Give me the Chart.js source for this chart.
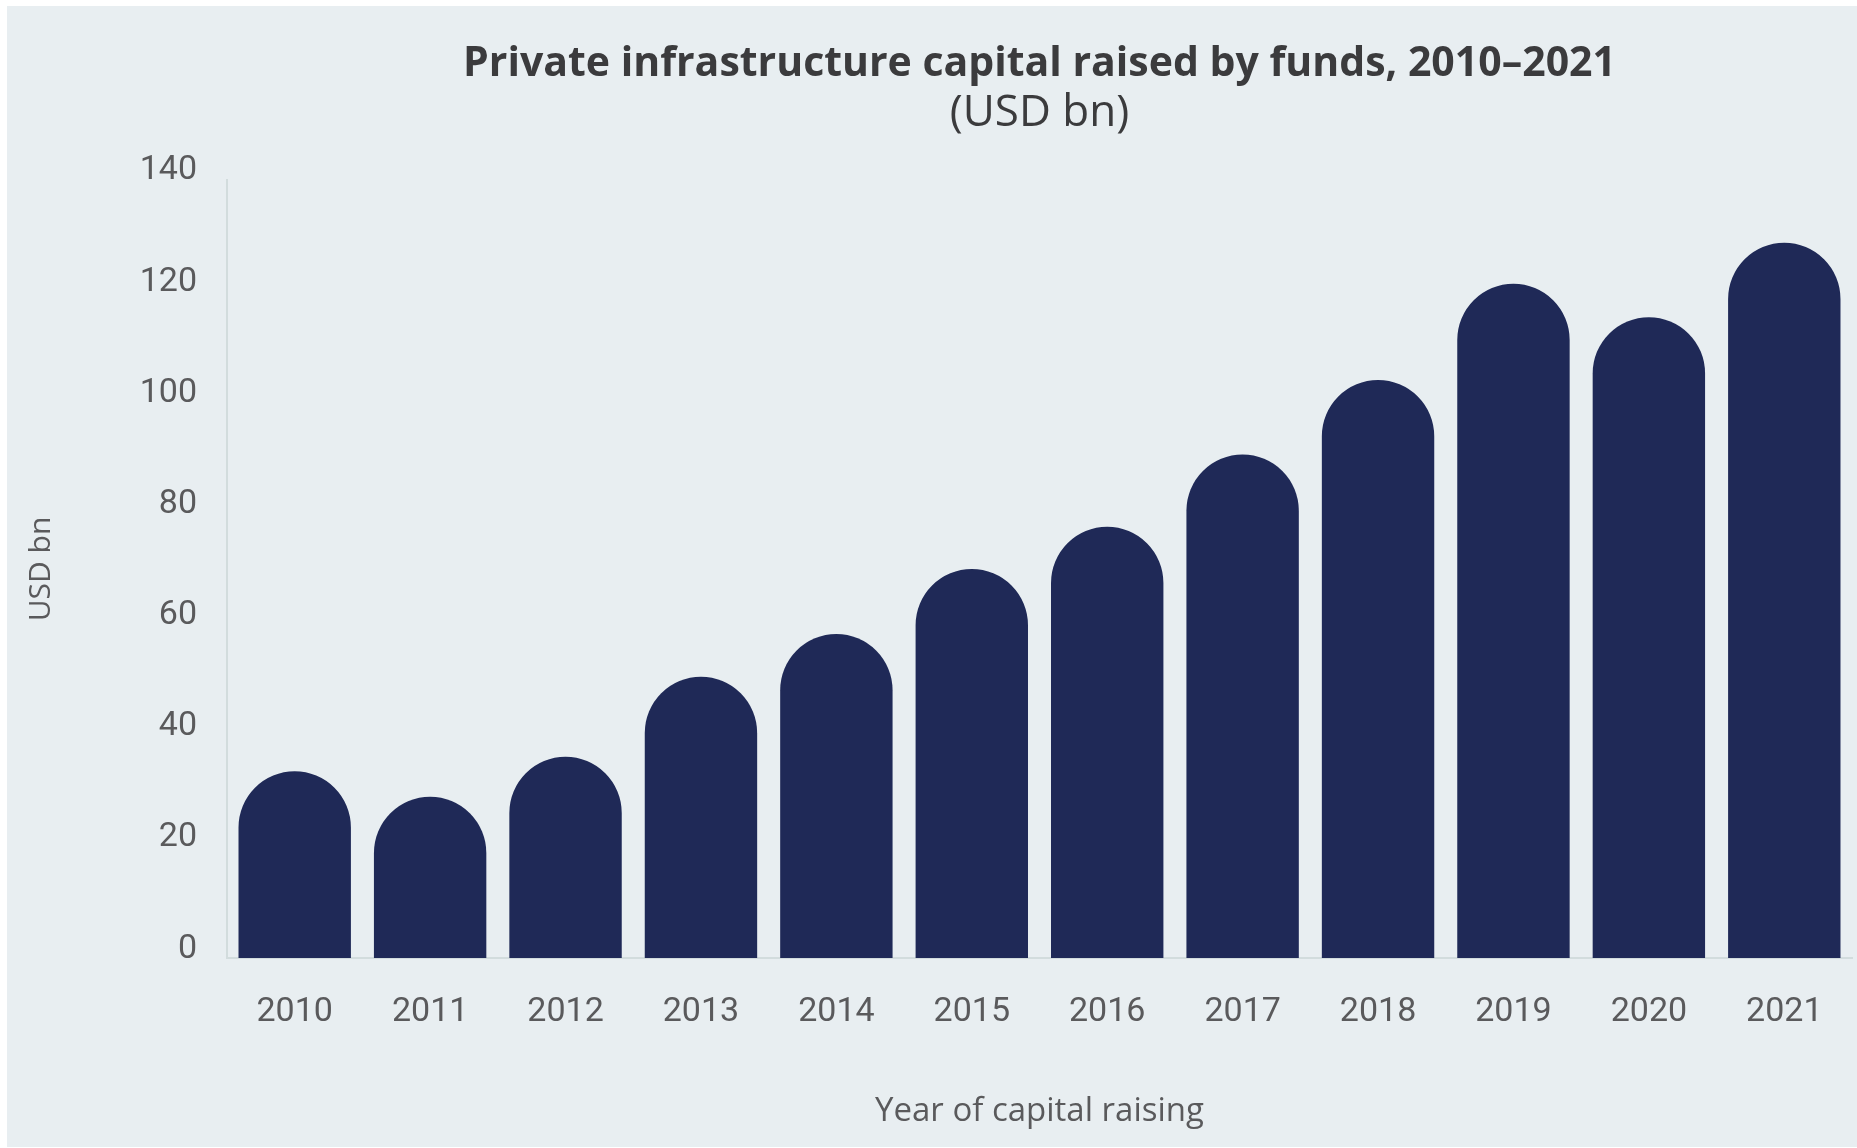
<!DOCTYPE html>
<html>
<head>
<meta charset="utf-8">
<title>Private infrastructure capital raised by funds</title>
<script src="https://cdn.jsdelivr.net/npm/chart.js@4/dist/chart.umd.min.js"></script>
<style>
    html, body { margin: 0; padding: 0; background: #ffffff; }
    #panel {
        position: absolute;
        left: 7px;
        top: 6px;
        width: 1850px;
        height: 1141px;
        background: #e8eef1;
    }
</style>
</head>
<body>
<div id="panel"><canvas id="fundsChart"></canvas></div>
<script>
// Capital raised per year (USD bn)
const years = ['2010', '2011', '2012', '2013', '2014', '2015', '2016', '2017', '2018', '2019', '2020', '2021'];
const capitalRaised = [33.6, 29.0, 36.2, 50.6, 58.3, 70.0, 77.6, 90.6, 104.0, 121.3, 115.3, 128.7];
const yTicks = [0, 20, 40, 60, 80, 100, 120, 140];

const barColor = '#1f2957';
const axisColor = '#d2dcdd';
const labelColor = '#5a5a5c';

document.addEventListener('DOMContentLoaded', () => {
    const ctx = document.getElementById('fundsChart').getContext('2d');

    new Chart(ctx, {
        type: 'bar',
        data: {
            labels: years,
            datasets: [{
                label: 'Capital raised',
                data: capitalRaised,
                backgroundColor: barColor,
                borderWidth: 0,
                borderSkipped: 'bottom',
                borderRadius: { topLeft: 60, topRight: 60, bottomLeft: 0, bottomRight: 0 },
                barPercentage: 0.83,
                categoryPercentage: 1.0
            }]
        },
        options: {
            responsive: true,
            maintainAspectRatio: false,
            animation: false,
            layout: { padding: { left: 0, right: 5, top: 0, bottom: 0 } },
            plugins: {
                legend: { display: false },
                tooltip: { enabled: false },
                title: {
                    display: true,
                    text: 'Private infrastructure capital raised by funds, 2010–2021',
                    fullSize: false,
                    color: '#3b3b3d',
                    font: { family: 'Open Sans', size: 41, weight: 'bold', lineHeight: 1.1 },
                    padding: { top: 36, bottom: 0 }
                },
                subtitle: {
                    display: true,
                    text: '(USD bn)',
                    fullSize: false,
                    color: '#3b3b3d',
                    font: { family: 'Open Sans', size: 44, weight: 'normal', lineHeight: 1.2 },
                    padding: { top: 0, bottom: 40 }
                }
            },
            scales: {
                x: {
                    grid: { display: false, drawTicks: false },
                    border: { display: true, color: axisColor, width: 2 },
                    ticks: {
                        color: labelColor,
                        font: { family: 'Roboto', size: 34 },
                        padding: 34,
                        maxRotation: 0
                    },
                    title: {
                        display: true,
                        text: 'Year of capital raising',
                        color: labelColor,
                        font: { family: 'Open Sans', size: 33, lineHeight: 1.2 },
                        padding: { top: 0, bottom: 16 }
                    },
                    afterFit: scale => { scale.height = 189; }
                },
                y: {
                    min: 0,
                    max: 140,
                    grid: { display: false, drawTicks: false },
                    border: { display: true, color: axisColor, width: 2 },
                    afterBuildTicks: scale => {
                        scale.ticks = yTicks.map(v => ({ value: v }));
                    },
                    ticks: {
                        color: labelColor,
                        font: { family: 'Roboto', size: 34 },
                        padding: 30,
                        labelOffset: -9
                    },
                    title: {
                        display: true,
                        text: 'USD bn',
                        color: labelColor,
                        font: { family: 'Open Sans', size: 30, lineHeight: 1.2 },
                        padding: { top: 16, bottom: 0 }
                    },
                    afterFit: scale => { scale.width = 220; }
                }
            }
        }
    });
});
</script>
</body>
</html>
